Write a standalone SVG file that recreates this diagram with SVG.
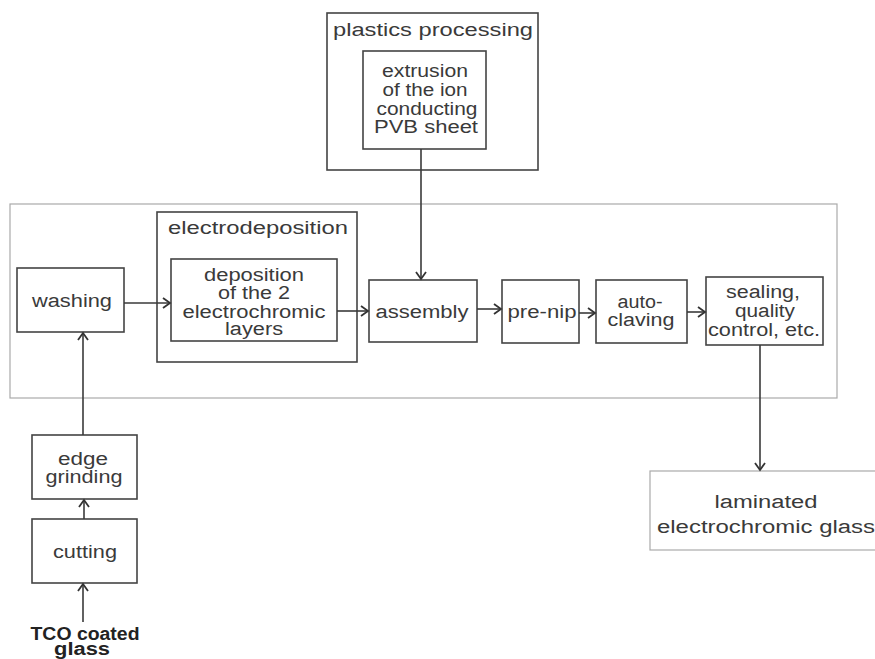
<svg xmlns="http://www.w3.org/2000/svg" width="875" height="659" viewBox="0 0 875 659">
<defs>
<style>
.t{font-family:"Liberation Sans",Arial,sans-serif;font-size:18px;fill:#3a3a3a;text-anchor:middle;}
.b{font-weight:bold;fill:#222;}
.box{fill:#fff;stroke:#444;stroke-width:1.6;}
.light{fill:none;stroke:#aaa;stroke-width:1.2;}
.lightw{fill:#fff;stroke:#aaa;stroke-width:1.2;}
.c{fill:none;stroke:#3a3a3a;stroke-width:1.6;}
</style>
<marker id="ah" viewBox="-9 -7 11 14" refX="0" refY="0" markerWidth="11" markerHeight="14" markerUnits="userSpaceOnUse" orient="auto">
<path d="M-7,-5 L0,0 L-7,5" fill="none" stroke="#333" stroke-width="1.8"/>
</marker>
</defs>
<rect width="875" height="659" fill="#fff"/>
<g id="main-line">
<rect class="light" x="10" y="204" width="827" height="194"/>
</g>
<g id="plastics-processing">
<rect class="box" x="327" y="13" width="211" height="157"/>
<text class="t" x="433" y="36" textLength="200" lengthAdjust="spacingAndGlyphs">plastics processing</text>
</g>
<g id="extrusion">
<rect class="box" x="363" y="51" width="123" height="98"/>
<text class="t" x="425" y="77" textLength="86" lengthAdjust="spacingAndGlyphs">extrusion</text>
<text class="t" x="425" y="96" textLength="85" lengthAdjust="spacingAndGlyphs">of the ion</text>
<text class="t" x="427" y="115" textLength="101" lengthAdjust="spacingAndGlyphs">conducting</text>
<text class="t" x="426" y="133" textLength="104" lengthAdjust="spacingAndGlyphs">PVB sheet</text>
</g>
<g id="electrodeposition">
<rect class="box" x="157" y="212" width="200" height="150"/>
<text class="t" x="258" y="234" textLength="180" lengthAdjust="spacingAndGlyphs">electrodeposition</text>
</g>
<g id="deposition">
<rect class="box" x="171" y="259" width="166" height="82"/>
<text class="t" x="254" y="281" textLength="100" lengthAdjust="spacingAndGlyphs">deposition</text>
<text class="t" x="254" y="299" textLength="72" lengthAdjust="spacingAndGlyphs">of the 2</text>
<text class="t" x="254" y="318" textLength="143" lengthAdjust="spacingAndGlyphs">electrochromic</text>
<text class="t" x="254" y="335" textLength="58" lengthAdjust="spacingAndGlyphs">layers</text>
</g>
<g id="washing">
<rect class="box" x="17" y="268" width="107" height="64"/>
<text class="t" x="72" y="307" textLength="80" lengthAdjust="spacingAndGlyphs">washing</text>
</g>
<g id="assembly">
<rect class="box" x="369" y="280" width="108" height="62"/>
<text class="t" x="422" y="318" textLength="93" lengthAdjust="spacingAndGlyphs">assembly</text>
</g>
<g id="pre-nip">
<rect class="box" x="502" y="280" width="77" height="63"/>
<text class="t" x="542" y="318" textLength="69" lengthAdjust="spacingAndGlyphs">pre-nip</text>
</g>
<g id="autoclaving">
<rect class="box" x="596" y="280" width="91" height="63"/>
<text class="t" x="640" y="308" textLength="45" lengthAdjust="spacingAndGlyphs">auto-</text>
<text class="t" x="641" y="326" textLength="67" lengthAdjust="spacingAndGlyphs">claving</text>
</g>
<g id="sealing">
<rect class="box" x="706" y="277" width="117" height="68"/>
<text class="t" x="763" y="298" textLength="74" lengthAdjust="spacingAndGlyphs">sealing,</text>
<text class="t" x="765" y="317" textLength="60" lengthAdjust="spacingAndGlyphs">quality</text>
<text class="t" x="764" y="336" textLength="112" lengthAdjust="spacingAndGlyphs">control, etc.</text>
</g>
<g id="laminated-glass">
<rect class="lightw" x="650" y="471" width="233" height="79"/>
<text class="t" x="766" y="508" textLength="103" lengthAdjust="spacingAndGlyphs">laminated</text>
<text class="t" x="766" y="533" textLength="218" lengthAdjust="spacingAndGlyphs">electrochromic glass</text>
</g>
<g id="edge-grinding">
<rect class="box" x="32" y="435" width="105" height="64"/>
<text class="t" x="83" y="465" textLength="50" lengthAdjust="spacingAndGlyphs">edge</text>
<text class="t" x="84" y="483" textLength="77" lengthAdjust="spacingAndGlyphs">grinding</text>
</g>
<g id="cutting">
<rect class="box" x="32" y="519" width="105" height="64"/>
<text class="t" x="85" y="558" textLength="64" lengthAdjust="spacingAndGlyphs">cutting</text>
</g>
<g id="tco-glass">
<text class="t b" x="85" y="640" textLength="109" lengthAdjust="spacingAndGlyphs">TCO coated</text>
<text class="t b" x="82" y="655" textLength="56" lengthAdjust="spacingAndGlyphs">glass</text>
</g>
<g id="connectors">
<line class="c" x1="83" y1="622" x2="83" y2="584" marker-end="url(#ah)"/>
<line class="c" x1="84" y1="519" x2="84" y2="500" marker-end="url(#ah)"/>
<line class="c" x1="83" y1="435" x2="83" y2="333" marker-end="url(#ah)"/>
<line class="c" x1="124" y1="303" x2="170" y2="303" marker-end="url(#ah)"/>
<line class="c" x1="337" y1="311" x2="368" y2="311" marker-end="url(#ah)"/>
<line class="c" x1="421" y1="149" x2="421" y2="279" marker-end="url(#ah)"/>
<line class="c" x1="477" y1="309" x2="501" y2="309" marker-end="url(#ah)"/>
<line class="c" x1="579" y1="313" x2="595" y2="313" marker-end="url(#ah)"/>
<line class="c" x1="687" y1="312" x2="705" y2="312" marker-end="url(#ah)"/>
<line class="c" x1="760" y1="345" x2="760" y2="470" marker-end="url(#ah)"/>
</g>
</svg>
